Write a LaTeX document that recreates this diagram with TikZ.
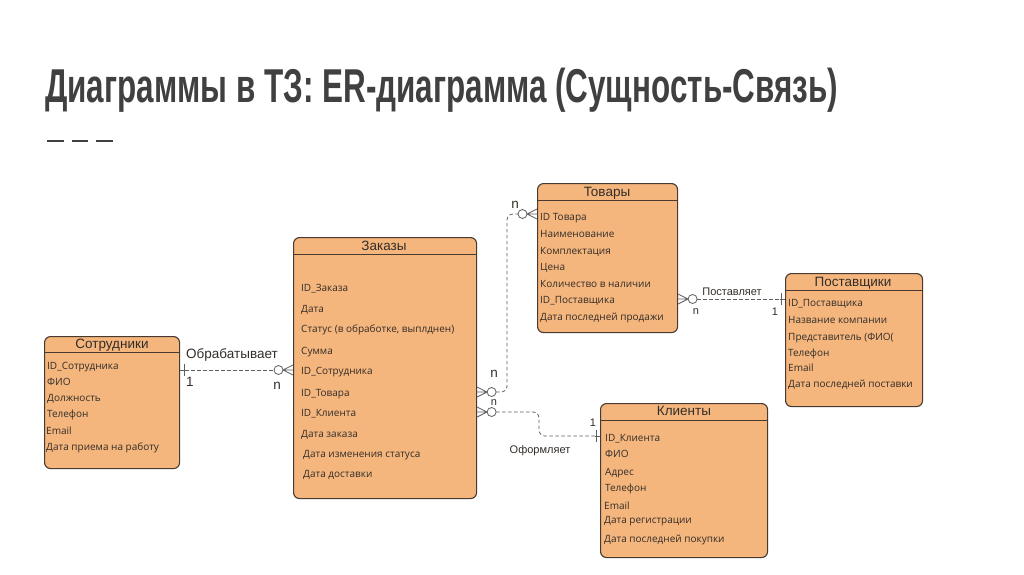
\documentclass[tikz,border=0pt]{standalone}
\usepackage{fontspec}
\setmainfont{Liberation Sans}
\newfontfamily\rowfont{Open Sans}
\usepackage{graphicx}
\definecolor{boxfill}{RGB}{245,182,126}
\definecolor{boxline}{RGB}{72,58,48}
\definecolor{txt}{RGB}{50,45,40}
\definecolor{ttl}{RGB}{64,64,64}
\definecolor{relc}{RGB}{95,95,95}
\begin{document}
\begin{tikzpicture}[x=1pt,y=-1pt,
  entity/.style={draw=boxline, fill=boxfill, line width=1.1pt, rounded corners=6pt, anchor=north west, inner sep=0pt},
  head/.style={font=\fontsize{13.5}{15}\selectfont, text=txt, inner sep=0pt, anchor=base},
  row/.style={font=\rowfont\fontsize{10}{12}\selectfont, text=txt, inner sep=0pt, anchor=base west},
  rel/.style={draw=relc, dash pattern=on 3.5pt off 2.5pt, line width=0.8pt, rounded corners=6pt},
  lbl/.style={font=\fontsize{11}{12}\selectfont, text=txt, inner sep=0pt},
  lblbig/.style={font=\fontsize{13.5}{15}\selectfont, text=txt, inner sep=0pt},
  zmany/.pic={
    \draw[relc, line width=0.8pt, solid] (0,-5) -- (10,0) -- (0,5) (0,0) -- (10,0);
    \draw[relc, line width=0.8pt, solid, fill=white] (14.5,0) circle[radius=4.5pt];
  },
  onebar/.pic={
    \draw[relc, line width=0.8pt, solid] (0,0) -- (5,0) (4,-6) -- (4,6);
  }
]
\useasboundingbox[fill=white] (0,0) rectangle (1024,574);

% title
\node[anchor=base west, inner sep=0pt, text=ttl] (title) at (45,102)
  {\resizebox{793pt}{\height}{\fontsize{47.5}{50}\selectfont\bfseries Диаграммы в ТЗ: ER-диаграмма (Сущность-Связь)}};
\foreach \xa in {47,71.5,96}
  \draw[ttl, line width=1.8pt] (\xa,141) -- ++(16.5,0);

% relation levels
\coordinate (r1) at (0,370);
\coordinate (r2) at (0,392);
\coordinate (r2b) at (0,214);
\coordinate (v2) at (507,0);
\coordinate (r3) at (0,412);
\coordinate (r3b) at (0,436);
\coordinate (v3) at (539,0);
\coordinate (r4) at (0,299);

% ---------- Сотрудники
\node[entity, minimum width=135pt, minimum height=132pt] (emp) at (44,336) {};
\draw[boxline, line width=1pt] ([yshift=-16pt]emp.north west) -- ([yshift=-16pt]emp.north east);
\node[head] (empH) at (112,348) {Сотрудники};
\node[row] (emp1) at (47,369) {ID\_Сотрудника};
\node[row] (emp2) at (47,385) {ФИО};
\node[row] (emp3) at (47,401) {Должность};
\node[row] (emp4) at (47,417) {Телефон};
\node[row] (emp5) at (46,434) {Email};
\node[row] (emp6) at (46,450) {Дата приема на работу};

% ---------- Заказы
\node[entity, minimum width=183pt, minimum height=261pt] (zak) at (293,237) {};
\draw[boxline, line width=1pt] ([yshift=-17pt]zak.north west) -- ([yshift=-17pt]zak.north east);
\node[head] (zakH) at (384,250) {Заказы};
\node[row] (zak1) at (301,291) {ID\_Заказа};
\node[row] (zak2) at (301,312) {Дата};
\node[row] (zak3) at (301,332) {Статус (в обработке, выплднен)};
\node[row] (zak4) at (301,354) {Сумма};
\node[row] (zak5) at (301,374) {ID\_Сотрудника};
\node[row] (zak6) at (301,396) {ID\_Товара};
\node[row] (zak7) at (301,416) {ID\_Клиента};
\node[row] (zak8) at (301,437) {Дата заказа};
\node[row] (zak9) at (303,457) {Дата изменения статуса};
\node[row] (zak10) at (303,477) {Дата доставки};

% ---------- Товары
\node[entity, minimum width=140pt, minimum height=149pt] (tov) at (537,183) {};
\draw[boxline, line width=1pt] ([yshift=-17pt]tov.north west) -- ([yshift=-17pt]tov.north east);
\node[head] (tovH) at (607,196) {Товары};
\node[row] (tov1) at (540,220) {ID Товара};
\node[row] (tov2) at (540,237) {Наименование};
\node[row] (tov3) at (540,254) {Комплектация};
\node[row] (tov4) at (540,270) {Цена};
\node[row] (tov5) at (540,287) {Количество в наличии};
\node[row] (tov6) at (540,303) {ID\_Поставщика};
\node[row] (tov7) at (540,320) {Дата последней продажи};

% ---------- Поставщики
\node[entity, minimum width=137pt, minimum height=133pt] (sup) at (785,273) {};
\draw[boxline, line width=1pt] ([yshift=-17pt]sup.north west) -- ([yshift=-17pt]sup.north east);
\node[head] (supH) at (853,286) {Поставщики};
\node[row] (sup1) at (788,306) {ID\_Поставщика};
\node[row] (sup2) at (788,323) {Название компании};
\node[row] (sup3) at (788,340) {Представитель (ФИО(};
\node[row] (sup4) at (788,356) {Телефон};
\node[row] (sup5) at (788,371) {Email};
\node[row] (sup6) at (788,387) {Дата последней поставки};

% ---------- Клиенты
\node[entity, minimum width=167pt, minimum height=154pt] (cli) at (600,403) {};
\draw[boxline, line width=1pt] ([yshift=-17pt]cli.north west) -- ([yshift=-17pt]cli.north east);
\node[head] (cliH) at (684,415) {Клиенты};
\node[row] (cli1) at (605,441) {ID\_Клиента};
\node[row] (cli2) at (605,457) {ФИО};
\node[row] (cli3) at (605,475) {Адрес};
\node[row] (cli4) at (605,491) {Телефон};
\node[row] (cli5) at (604,509) {Email};
\node[row] (cli6) at (604,523) {Дата регистрации};
\node[row] (cli7) at (604,542) {Дата последней покупки};

% ---------- relations
% Сотрудники -- Заказы
\pic at (emp.east |- r1) {onebar};
\pic[rotate=180] at (zak.west |- r1) {zmany};
\draw[rel] ([xshift=5pt]emp.east |- r1) -- ([xshift=-19pt]zak.west |- r1);
\node[lblbig] (l1) at (232,355) {Обрабатывает};
\node[lblbig] (l1a) at (190,382) {1};
\node[lblbig] (l1b) at (277,386) {n};

% Заказы -- Товары
\pic at (zak.east |- r2) {zmany};
\pic[rotate=180] at (tov.west |- r2b) {zmany};
\draw[rel] ([xshift=19pt]zak.east |- r2) -- (v2 |- r2) -- (v2 |- r2b) -- ([xshift=-19pt]tov.west |- r2b);
\node[lblbig] (l2a) at (494,374) {n};
\node[lblbig] (l2b) at (515,205) {n};

% Заказы -- Клиенты
\pic at (zak.east |- r3) {zmany};
\pic[rotate=180] at (cli.west |- r3b) {onebar};
\draw[rel] ([xshift=19pt]zak.east |- r3) -- (v3 |- r3) -- (v3 |- r3b) -- ([xshift=-5pt]cli.west |- r3b);
\node[lbl] (l3) at (540,451) {Оформляет};
\node[lbl] (l3a) at (494,403) {n};
\node[lbl] (l3b) at (593,423) {1};

% Товары -- Поставщики
\pic at (tov.east |- r4) {zmany};
\pic[rotate=180] at (sup.west |- r4) {onebar};
\draw[rel] ([xshift=19pt]tov.east |- r4) -- ([xshift=-5pt]sup.west |- r4);
\node[lbl] (l4) at (732,292) {Поставляет};
\node[lbl] (l4a) at (696,312) {n};
\node[lbl] (l4b) at (775,312) {1};
\end{tikzpicture}
\end{document}
